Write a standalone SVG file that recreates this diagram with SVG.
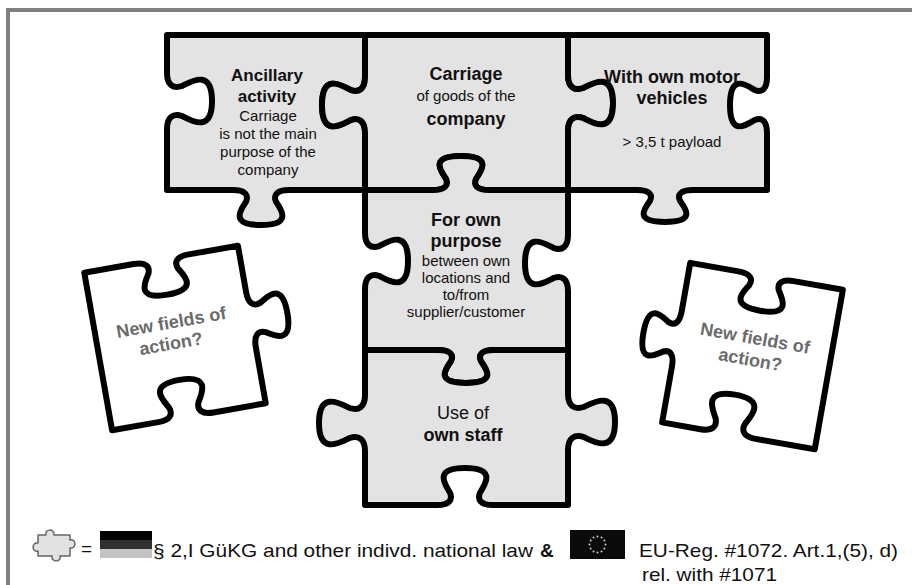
<svg xmlns="http://www.w3.org/2000/svg" width="912" height="585" viewBox="0 0 912 585">
<style>
.piece{fill:#e3e3e3;stroke:#000;stroke-width:6;stroke-linejoin:round}
.white{fill:#fff;stroke:#000;stroke-width:6;stroke-linejoin:round}
.t{font-family:"Liberation Sans",Arial,sans-serif;fill:#111;text-anchor:middle}
.b{font-weight:bold}
.g{font-family:"Liberation Sans",Arial,sans-serif;fill:#6b6b6b;font-weight:bold;font-size:18px;text-anchor:middle}
.lg{font-family:"Liberation Sans",Arial,sans-serif;fill:#111;font-size:19px}
</style>
<rect x="0" y="0" width="912" height="585" fill="#fff"/>
<path d="M8,585 L8,10 L912,10" fill="none" stroke="#808080" stroke-width="4"/>

<g id="ancillary">
<path class="piece" d="M167,35 L365,35 L365,77 C365,89 359,93 350.7,90 C341.1,85 322,73 322,105 C322,137 341.1,125 350.7,120 C359,117 365,121 365,133 L365,190 L289,190 C277,190 273,194.9 276,201.7 C281,209.4 293,225 261,225 C229,225 241,209.4 246,201.7 C249,194.9 245,190 233,190 L167,190 L167,129 C167,117 173.25,113 182,116 C192,121 212,133 212,101 C212,69 192,81 182,86 C173.25,89 167,85 167,73 Z"/>
<text class="t b" x="267" y="81" font-size="17">Ancillary</text>
<text class="t b" x="267" y="102" font-size="17">activity</text>
<text class="t" x="268" y="121" font-size="15">Carriage</text>
<text class="t" x="268" y="139" font-size="15">is not the main</text>
<text class="t" x="268" y="157" font-size="15">purpose of the</text>
<text class="t" x="268" y="175" font-size="15">company</text>
</g>

<g id="carriage">
<path class="piece" d="M365,35 L568,35 L568,75 C568,87 574.25,91 583,88 C593,83 613,71 613,103 C613,135 593,123 583,118 C574.25,115 568,119 568,131 L568,190 L489,190 C477,190 473,185.3 476,178.7 C481,171.1 493,156 461,156 C429,156 441,171.1 446,178.7 C449,185.3 445,190 433,190 L365,190 L365,133 C365,121 359,117 350.7,120 C341.1,125 322,137 322,105 C322,73 341.1,85 350.7,90 C359,93 365,89 365,77 Z"/>
<text class="t b" x="466" y="80" font-size="18">Carriage</text>
<text class="t" x="466" y="101" font-size="15">of goods of the</text>
<text class="t b" x="466" y="125" font-size="18">company</text>
</g>

<g id="motor-vehicles">
<path class="piece" d="M568,35 L767,35 L767,77 C767,89 761.9,93 754.7,90 C746.4,85 730,73 730,105 C730,137 746.4,125 754.7,120 C761.9,117 767,121 767,133 L767,190 L693,190 C681,190 677,194.4 680,200.7 C685,207.8 697,222 665,222 C633,222 645,207.8 650,200.7 C653,194.4 649,190 637,190 L568,190 L568,131 C568,119 574.25,115 583,118 C593,123 613,135 613,103 C613,71 593,83 583,88 C574.25,91 568,87 568,75 Z"/>
<text class="t b" x="672" y="83" font-size="18">With own motor</text>
<text class="t b" x="672" y="104" font-size="18">vehicles</text>
<text class="t" x="672" y="147" font-size="15">&gt; 3,5 t payload</text>
</g>

<g id="own-purpose">
<path class="piece" d="M365,190 L433,190 C445,190 449,185.3 446,178.7 C441,171.1 429,156 461,156 C493,156 481,171.1 476,178.7 C473,185.3 477,190 489,190 L568,190 L568,235 C568,247 562,251 553.7,248 C544.1,243 525,231 525,263 C525,295 544.1,283 553.7,278 C562,275 568,279 568,291 L568,350 L494,350 C482,350 478,354.6 481,361 C486,368.3 498,383 466,383 C434,383 446,368.3 451,361 C454,354.6 450,350 438,350 L365,350 L365,289 C365,277 371,273 379.3,276 C388.9,281 408,293 408,261 C408,229 388.9,241 379.3,246 C371,249 365,245 365,233 Z"/>
<text class="t b" x="466" y="226" font-size="18">For own</text>
<text class="t b" x="466" y="247" font-size="18">purpose</text>
<text class="t" x="466" y="266" font-size="15">between own</text>
<text class="t" x="466" y="283" font-size="15">locations and</text>
<text class="t" x="466" y="300" font-size="15">to/from</text>
<text class="t" x="466" y="317" font-size="15">supplier/customer</text>
</g>

<g id="own-staff">
<path class="piece" d="M365,350 L438,350 C450,350 454,354.6 451,361 C446,368.3 434,383 466,383 C498,383 486,368.3 481,361 C478,354.6 482,350 494,350 L568,350 L568,394 C568,406 574.5,410 583.7,407 C594.1,402 615,390 615,422 C615,454 594.1,442 583.7,437 C574.5,434 568,438 568,450 L568,505 L493,505 C481,505 477,499.9 480,492.7 C485,484.4 497,468 465,468 C433,468 445,484.4 450,492.7 C453,499.9 449,505 437,505 L365,505 L365,451 C365,439 358.6,435 349.7,438 C339.4,443 319,455 319,423 C319,391 339.4,403 349.7,408 C358.6,411 365,407 365,395 Z"/>
<text class="t" x="463" y="419" font-size="18">Use of</text>
<text class="t b" x="463" y="441" font-size="18">own staff</text>
</g>

<g id="new-fields-left" transform="rotate(-10 175 338)">
<path class="white" d="M97,258 L147,258 C159,258 163,263 160,270 C155,278 143,294 175,294 C207,294 195,278 190,270 C187,263 191,258 203,258 L253,258 L253,305 C253,317 258.1,321 265.3,318 C273.6,313 290,301 290,333 C290,365 273.6,353 265.3,348 C258.1,345 253,349 253,361 L253,418 L200,418 C188,418 184,412.7 187,405.3 C192,396.9 204,380 172,380 C140,380 152,396.9 157,405.3 C160,412.7 156,418 144,418 L97,418 Z"/>
<text class="g" x="174" y="328">New fields of</text>
<text class="g" x="170" y="349">action?</text>
</g>

<g id="new-fields-right" transform="rotate(10 752 356)">
<path class="white" d="M675,275 L724,275 C736,275 740,279.9 737,286.7 C732,294.4 720,310 752,310 C784,310 772,294.4 767,286.7 C764,279.9 768,275 780,275 L830,275 L830,437 L770,437 C758,437 754,431.4 757,423.7 C762,414.8 774,397 742,397 C710,397 722,414.8 727,423.7 C730,431.4 726,437 714,437 L675,437 L675,380 C675,368 670.3,364 663.7,367 C656.1,372 641,384 641,352 C641,320 656.1,332 663.7,337 C670.3,340 675,336 675,324 Z"/>
<text class="g" x="752" y="344">New fields of</text>
<text class="g" x="751" y="366">action?</text>
</g>

<g id="connectors"></g>

<g id="legend">
<path d="M38,535 L46,535 C44,529 55,528 54,535 L70,535 L70,540 C76,538 77,549 70,548 L70,556 L60,556 C62,562 51,563 52,556 L38,556 L38,551 C32,553 31,542 38,543 Z" fill="#e2e2e2" stroke="#666" stroke-width="1.5" stroke-linejoin="round"/>
<text class="lg" x="81" y="555">=</text>
<rect x="100" y="531" width="52" height="9" fill="#000"/>
<rect x="100" y="540" width="52" height="9" fill="#303030"/>
<rect x="100" y="549" width="52" height="9" fill="#c4c4c4"/>
<text class="lg" x="153" y="557" textLength="380" lengthAdjust="spacingAndGlyphs">§ 2,I GüKG and other indivd. national law</text>
<text class="lg b" x="540" y="557">&amp;</text>
<rect x="570" y="530" width="55" height="29" fill="#0a0a0a"/>
<g fill="#cfcfcf">
<circle cx="597.5" cy="536.5" r="1"/>
<circle cx="601.5" cy="537.6" r="1"/>
<circle cx="604.4" cy="540.5" r="1"/>
<circle cx="605.5" cy="544.5" r="1"/>
<circle cx="604.4" cy="548.5" r="1"/>
<circle cx="601.5" cy="551.4" r="1"/>
<circle cx="597.5" cy="552.5" r="1"/>
<circle cx="593.5" cy="551.4" r="1"/>
<circle cx="590.6" cy="548.5" r="1"/>
<circle cx="589.5" cy="544.5" r="1"/>
<circle cx="590.6" cy="540.5" r="1"/>
<circle cx="593.5" cy="537.6" r="1"/>
</g>
<text class="lg" x="639" y="557" textLength="259" lengthAdjust="spacingAndGlyphs">EU-Reg. #1072. Art.1,(5), d)</text>
<text class="lg" x="642" y="581" textLength="135" lengthAdjust="spacingAndGlyphs">rel. with  #1071</text>
</g>
</svg>
